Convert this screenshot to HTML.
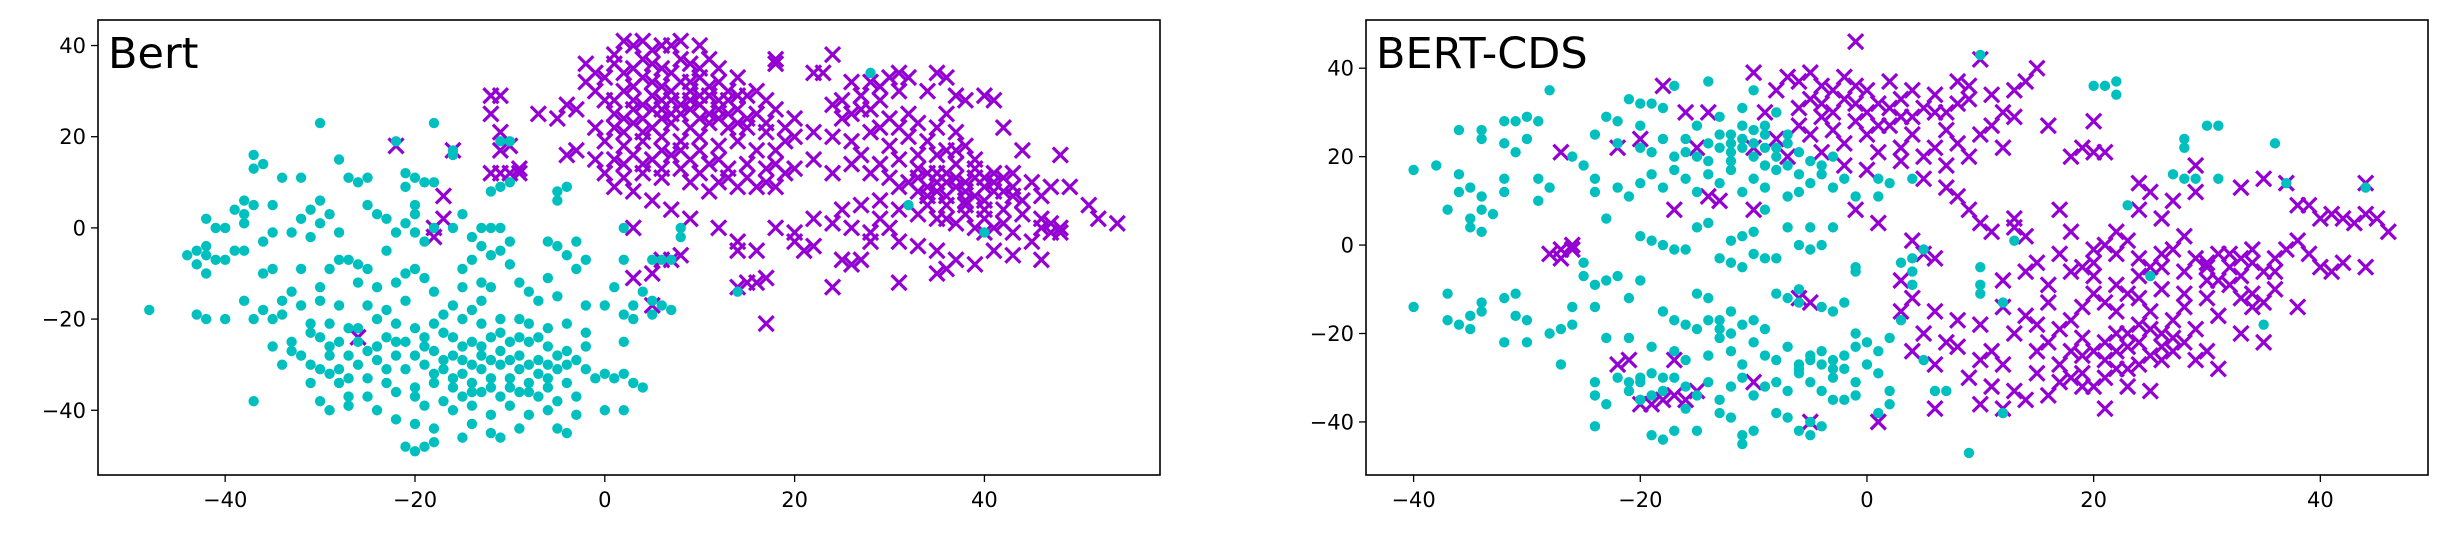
<!DOCTYPE html>
<html><head><meta charset="utf-8">
<style>
html,body{margin:0;padding:0;background:#fff;}
svg{display:block;}
text{font-family:"DejaVu Sans","Liberation Sans",sans-serif;}
</style></head>
<body>
<svg id="fig" width="2443" height="540" viewBox="0 0 2443 540" xmlns="http://www.w3.org/2000/svg">
<rect x="0" y="0" width="2443" height="540" fill="#fff"/>
</svg>
<script>
const xTicks = [-40, -20, 0, 20, 40];
const yTicks = [-40, -20, 0, 20, 40];
const titles = ["Bert", "BERT-CDS"];

const bertCyan = [[-30,23],[-18,23],[-22,19],[-16,17],[-10,19],[-37,16],[-37,13],[-36,14],[-28,15],[-34,11],[-32,11],[-27,11],[-26,10],[-25,11],[-21,12],[-20,11],[-19,10],[-18,10],[-21,9],[-11,9],[-12,8],[-10,10],[-5,8],[-4,9],[-5,6],[-38,6],[-37,5],[-39,4],[-38,3],[-35,5],[-31,4],[-30,6],[-32,2],[-29,3],[-30,1],[-25,5],[-24,3],[-23,2],[-20,5],[-20,3],[-21,1],[-18,0],[-15,3],[-16,0],[-13,0],[-12,0],[-11,0],[-42,2],[-41,0],[-40,0],[-38,1],[-36,-3],[-35,-1],[-33,-1],[-31,-2],[-28,-1],[-22,-1],[-20,-1],[-19,-3],[-14,-2],[-13,-4],[-11,-5],[-6,-3],[-5,-4],[-3,-3],[-4,-6],[-10,-3],
[-43,-5],[-44,-6],[-42,-6],[-41,-7],[-43,-8],[-40,-7],[-39,-5],[-42,-10],[-38,-5],[-42,-4],
[-36,-10],[-35,-9],[-32,-9],[-29,-9],[-28,-7],[-27,-7],[-26,-8],[-25,-9],[-23,-5],[-21,-10],[-20,-9],[-19,-11],[-15,-9],[-14,-7],[-12,-6],[-10,-8],[-9,-12],[-6,-11],[-3,-9],[-2,-7],[2,-7],[5,-7],[6,-7],[7,-7],[-26,-12],[-24,-13],[-22,-12],[-18,-14],[-15,-13],[-13,-12],[-12,-13],[-8,-14],[-5,-15],[1,-13],[4,-14],[-30,-13],[-33,-14],[-34,-16],[-38,-16],[-36,-18],[-32,-17],[-30,-16],[-28,-17],[-25,-17],[-23,-18],[-21,-16],[-16,-17],[-13,-16],[-7,-16],[-2,-17],[0,-17],[3,-17],[5,-16],[6,-17],[7,-18],[2,-19],[3,-20],[5,-19],
[-48,-18],[-43,-19],[-42,-20],[-40,-20],[-37,-20],[-35,-20],[-34,-19],[-31,-21],[-29,-21],[-27,-22],[-24,-20],[-22,-21],[-20,-22],[-18,-21],[-15,-20],[-13,-21],[-11,-20],[-9,-20],[-8,-21],[-6,-22],[-4,-21],[-2,-23],
[-31,-23],[-30,-24],[-28,-25],[-26,-25],[-23,-24],[-21,-25],[-19,-24],[-17,-23],[-16,-24],[-14,-25],[-12,-24],[-10,-25],[-8,-25],[-6,-26],[-4,-27],[-2,-26],[2,-25],
[-35,-26],[-33,-27],[-32,-28],[-29,-28],[-27,-28],[-25,-27],[-24,-29],[-22,-28],[-20,-28],[-18,-27],[-16,-28],[-15,-29],[-13,-28],[-11,-27],[-9,-28],[-7,-29],[-5,-28],[-3,-29],
[-34,-30],[-30,-31],[-28,-31],[-26,-30],[-23,-31],[-21,-31],[-19,-30],[-17,-31],[-15,-32],[-13,-31],[-11,-30],[-9,-31],[-7,-32],[-5,-31],[-2,-31],[0,-32],[1,-33],[2,-32],
[-31,-34],[-28,-34],[-25,-33],[-23,-34],[-20,-35],[-18,-34],[-16,-33],[-14,-34],[-12,-35],[-10,-33],[-8,-34],[-6,-35],[-4,-34],[-1,-33],[3,-34],[4,-35],
[-27,-37],[-25,-37],[-22,-36],[-20,-37],[-17,-38],[-15,-37],[-13,-36],[-11,-37],[-9,-36],[-7,-37],[-5,-38],[-3,-37],
[-37,-38],[-30,-38],[-29,-40],[-27,-39],[-24,-40],[-19,-39],[-16,-40],[-14,-39],[-12,-41],[-10,-39],[-8,-41],[-6,-40],[-3,-41],[0,-40],[2,-40],
[-22,-42],[-20,-43],[-18,-44],[-14,-43],[-12,-45],[-9,-44],[-5,-44],[-4,-45],[-15,-46],[-11,-46],[-21,-48],[-20,-49],[-19,-48],[-18,-47],
[-29,-26],[-26,-22],[-24,-26],[-22,-25],[-19,-26],[-17,-29],[-14,-30],[-12,-29],[-10,-29],[-8,-30],[-6,-30],[-4,-30],[-18,-32],[-16,-35],[-14,-36],[-12,-33],[-10,-35],[-8,-36],[-6,-33],[-15,-26],[-13,-26],[-11,-23],[-9,-24],[-7,-24],[-17,-19],[-14,-18],[-31,-30],[-33,-25],[-29,-32],[-27,-33],
[28,34],[32,5],[40,-1],[2,0],[8,0],[8,-2],[14,-14],[-11,19],[-16,16]];

const bertPurple = [[-4,27],[-3,26],[-5,24],[-7,25],[-12,29],[-11,29],[-12,25],[-11,21],[-22,18],[-11,17],[-16,17],[-12,12],[-11,12],[-10,12],[-9,12],[-9,13],[-17,7],[-17,2],[-18,-2],[-18,0],[-10,18],[-4,16],[-3,17],[-26,-24],
[-2,32],[-1,34],[-2,36],[0,33],[1,38],[2,41],[3,40],[4,41],[5,39],[6,40],[7,40],[8,41],[10,40],[1,36],[3,35],[5,36],[7,34],[9,36],[11,37],[12,35],[14,33],[4,33],[6,31],[8,32],[10,33],[12,32],[2,30],[0,28],[3,28],[5,29],[7,28],[9,30],[11,29],[13,28],[15,29],[16,30],[17,28],[18,26],[1,25],[3,26],[5,26],[7,25],[9,26],[10,27],[12,26],[14,26],[16,25],[-1,22],[1,22],[3,23],[5,22],[7,23],[9,22],[11,23],[13,22],[15,22],[17,21],[19,22],[20,20],[0,19],[2,18],[4,19],[6,20],[8,19],[10,20],[12,18],[14,19],[16,17],[18,17],[-1,15],[1,15],[3,16],[5,15],[7,16],[9,15],[11,14],[13,13],[15,14],[17,13],[19,12],[0,12],[2,11],[4,12],[6,11],[8,13],[10,12],[12,10],[14,9],[16,9],[18,9],[1,9],[3,8],[5,6],[7,4],[9,2],[12,0],[14,-3],[14,-5],[16,-5],[18,0],[20,-1],[21,-5],[3,0],[8,-6],[7,-7],[6,-7],[5,-10],[15,-12],[16,-12],[17,-11],[14,-13],[17,-21],[3,-11],[5,-17],
[2,34],[4,37],[6,35],[8,37],[10,35],[3,31],[5,32],[7,30],[9,32],[11,31],[13,30],[4,27],[6,28],[8,27],[10,29],[12,28],[14,29],[2,24],[4,24],[6,24],[8,25],[10,24],[12,24],[14,23],[2,21],[4,21],[6,17],[8,17],[10,17],[12,15],[2,14],[4,14],[6,13],[9,10],[11,8],[13,11],[15,11],[17,10],[1,28],[-1,30],[6,26],[9,28],[11,25],[13,25],[15,24],[17,23],[19,19],[18,14],[20,13],
[18,37],[18,36],[24,38],[22,34],[23,34],[26,32],[28,32],[30,33],[31,34],[32,33],[29,31],[27,29],[25,28],[24,27],[26,25],[28,26],[30,24],[32,25],[34,30],[35,34],[36,33],[37,29],[38,28],[40,29],[41,28],[36,25],[42,22],[22,21],[24,20],[26,19],[28,21],[30,18],[32,20],[34,19],[36,17],[38,18],[44,17],[48,16],[20,24],[22,15],[24,12],[26,14],[28,12],[30,11],[31,15],[33,13],[35,12],[37,14],[39,11],[41,12],[43,12],[45,10],[47,9],[49,9],[51,5],[52,2],[54,1],
[32,10],[34,9],[35,8],[36,10],[38,8],[40,9],[42,8],[44,6],[46,7],[34,7],[36,5],[38,5],[40,6],[42,4],[44,3],[46,2],[47,1],[48,0],[47,-1],[33,3],[35,2],[37,1],[39,0],[41,0],[43,-1],[45,-3],[30,0],[28,-1],[26,0],[24,1],[22,2],[25,4],[27,5],[29,6],[31,-3],[33,-4],[35,-5],[37,-7],[39,-8],[41,-5],[43,-6],[46,-7],[25,-7],[26,-8],[27,-7],[28,-3],[22,-4],[20,-3],[35,-10],[36,-9],[31,-12],[24,-13],[40,-1],
[33,11],[34,12],[36,12],[37,11],[38,10],[39,13],[40,11],[41,10],[42,11],[43,9],[33,8],[35,10],[37,9],[39,7],[41,8],[43,7],[36,7],[38,6],[40,4],[34,5],[36,2],[38,3],[40,2],[42,1],[48,-1],[46,0],[29,28],[31,30],[27,26],[25,24],[29,22],[31,22],[33,23],[35,22],[37,21],[33,16],[35,16],[37,17],[39,15],[27,16],[29,14],[31,9],[29,2],[31,4]];

const cdsCyan = [[-40,17],[-38,18],[-36,26],[-34,26],[-34,24],[-32,28],[-31,28],[-30,29],[-29,28],[-30,24],[-32,23],[-31,21],[-28,35],[-24,25],[-23,29],[-22,28],[-21,33],[-20,32],[-19,32],[-18,31],[-17,36],[-20,27],[-22,23],[-20,22],[-19,21],[-18,24],[-16,24],[-17,20],[-15,20],[-14,19],[-13,22],[-12,21],[-11,24],[-10,26],[-9,22],[-8,20],[-7,23],[-6,21],[-5,19],[-4,18],[-3,20],[-15,27],[-13,29],[-12,25],[-11,31],[-10,35],[-14,37],[-9,27],[-8,30],[-7,25],
[-12,23],[-11,22],[-10,23],[-10,20],[-9,25],[-8,22],[-11,27],[-12,19],[-13,25],[-14,23],[-16,21],[-7,18],[-6,16],[-9,18],
[-36,16],[-36,12],[-35,13],[-34,11],[-34,8],[-32,15],[-32,12],[-29,10],[-29,15],[-28,13],[-26,20],[-25,18],[-24,15],[-24,12],[-22,13],[-21,11],[-20,14],[-19,16],[-18,13],[-17,17],[-16,15],[-15,12],[-14,16],[-13,14],[-12,17],[-11,12],[-10,15],[-9,13],[-8,17],[-7,11],[-6,12],[-5,14],[-4,16],[-3,13],[-2,15],[-1,11],[1,11],[1,15],[2,14],[4,15],[-37,8],[-35,6],[-35,4],[-34,3],[-33,7],[-23,6],[-20,2],[-19,1],[-18,0],[-17,-1],[-16,-1],[-15,4],[-14,5],[-12,1],[-11,2],[-10,3],[-9,8],[-9,-3],[-8,-3],[-7,4],[-6,0],[-5,-1],[-4,0],[-5,4],[-3,4],[-13,-3],[-12,-4],[-11,-5],[-10,-2],[-1,-6],[-1,-5],[3,-4],[4,-3],[5,-1],[4,-6],[4,-9],[10,-5],[10,-9],[10,-11],
[-40,-14],[-37,-11],[-37,-17],[-36,-18],[-35,-19],[-35,-16],[-34,-15],[-34,-13],[-32,-12],[-31,-11],[-31,-16],[-30,-17],[-28,-20],[-27,-19],[-26,-14],[-26,-18],[-24,-14],[-25,-4],[-25,-7],[-24,-9],[-23,-8],[-22,-7],[-21,-12],[-20,-8],[-18,-15],[-17,-17],[-16,-18],[-15,-11],[-14,-12],[-13,-17],[-12,-15],[-11,-18],[-10,-17],[-9,-19],[-8,-11],[-7,-12],[-6,-13],[-6,-10],[-4,-14],[-3,-15],[-2,-13],[-1,-20],[-1,-23],[0,-22],[1,-24],[2,-21],[3,-17],[-32,-22],[-30,-22],[-27,-27],[-23,-21],[-21,-21],[-19,-23],[-17,-24],[-16,-26],[-14,-25],[-13,-21],[-12,-24],[-11,-27],[-10,-22],[-9,-25],[-8,-26],[-7,-23],[-6,-28],[-5,-25],[-4,-27],[-3,-26],[-2,-28],[0,-27],[-24,-31],[-24,-34],[-22,-30],[-21,-33],[-20,-31],[-19,-29],[-18,-33],[-17,-30],[-16,-32],[-15,-34],[-14,-31],[-13,-35],[-12,-32],[-11,-30],[-10,-34],[-9,-32],[-8,-31],[-7,-33],[-6,-29],[-5,-31],[-4,-33],[-3,-30],[-1,-31],[1,-29],[2,-33],[-23,-36],[-20,-35],[-16,-37],[-13,-38],[-12,-39],[-8,-38],[-7,-39],[-5,-40],[-4,-41],[-3,-35],[-2,-35],[-1,-34],[1,-38],[2,-36],[-24,-41],[-19,-43],[-18,-44],[-17,-42],[-15,-42],[-11,-43],[-10,-42],[-11,-45],[-6,-42],[-5,-43],[5,-26],[6,-33],[7,-33],[12,-38],[9,-47],[10,43],[20,36],[21,36],[22,37],[22,34],[30,27],[31,27],[28,24],[28,22],[27,16],[28,15],[29,15],[31,15],[36,23],[37,14],[44,13],[23,9],[25,-7],[13,1],[12,-13],[35,-18],
[-5,-26],[-6,-27],[-4,-24],[-3,-28],[-2,-25],[-13,-19],[-12,-20],[-14,-17],[-15,-19],[-21,-31],[-20,-30],[-19,-34],[-18,-30]];

const cdsPurple = [[-28,-2],[-27,-3],[-27,-1],[-26,-1],[-26,0],[-22,22],[-20,24],[-27,21],[-18,36],[-17,-26],[-17,-34],[-18,-35],[-19,-36],[-20,-36],[-21,-26],[-22,-27],[-16,-35],[-15,-33],[-10,-31],[-5,-40],[-6,-12],[-5,-13],[1,-40],[-17,8],[-14,11],[-13,10],[-10,8],[-10,22],[-15,22],[-14,30],[-16,30],
[-1,46],[-10,39],[-9,30],[-8,35],[-7,38],[-6,37],[-5,39],[-4,32],[-3,35],[-2,38],[-1,36],[0,30],[1,32],[2,37],[3,33],[4,35],[5,31],[6,34],[7,26],[8,37],[9,36],[10,42],[11,34],[12,30],[13,35],[14,37],[15,40],[-6,27],[-5,25],[-4,29],[-3,26],[-2,23],[-1,28],[0,25],[1,21],[2,27],[3,22],[4,25],[5,20],[6,22],[7,18],[8,23],[9,20],[10,25],[11,27],[12,22],[13,29],[-8,24],[-7,20],[-4,21],[-2,18],[0,17],[3,19],[5,15],[7,13],[8,11],[9,8],[10,5],[11,3],[13,6],[-1,8],[1,5],[4,1],[5,-2],[6,-3],[3,-8],[4,-12],[6,-15],[8,-17],[3,-15],[5,-20],[7,-22],[4,-24],[6,-27],[10,-26],[11,-24],[12,-27],[13,-20],[14,-16],[15,-18],[16,-13],[12,-8],[14,-6],[15,-4],[13,4],[14,2],[16,-9],[17,-2],[18,3],[19,-5],[20,-1],[21,0],[22,3],[23,1],[24,-3],[25,-5],[26,-2],[27,-1],[28,2],[29,-3],[30,-4],[31,-2],[32,-5],[33,-3],[34,-4],[35,-6],[36,-3],[37,-1],[38,1],[30,-8],[32,-9],[34,-11],[35,-13],[36,-10],[38,-14],[28,-11],[26,-10],[24,-12],[22,-9],[20,-7],[18,-6],[17,8],[18,20],[19,22],[20,21],[21,21],[20,28],[16,27],[25,12],[24,14],[27,10],[29,12],[29,18],[33,13],[35,15],[37,14],[38,9],[39,9],[40,6],[41,7],[42,6],[43,5],[44,14],[44,7],[45,6],[46,3],[40,-5],[41,-6],[42,-4],[44,-5],[39,-2],[24,8],[26,6],[20,-11],[22,-15],[24,-18],[26,-20],[28,-22],[30,-24],[31,-28],[27,-24],[25,-25],[23,-28],[21,-22],[19,-25],[17,-27],[15,-29],[18,-30],[20,-32],[16,-34],[14,-35],[12,-37],[11,-32],[10,-36],[21,-30],[19,-29],[23,-20],[25,-15],[27,-17],[29,-19],[31,-16],[33,-20],[35,-22],[23,-32],[25,-33],[13,-33],[8,-23],[9,-30],[6,-37],[21,-37],[22,-24],[24,-22],[26,-23],[28,-14],[30,-12],[18,-17],[16,-22],[12,-14],[10,-18],
[-4,36],[-2,33],[0,35],[2,31],[4,29],[6,30],[8,32],[-3,30],[-1,32],[1,27],[3,29],[-5,33],[-6,31],[7,30],[9,33],[22,-20],[23,-23],[20,-24],[21,-26],[24,-27],[26,-26],[18,-24],[19,-21],[17,-19],[25,-19],[27,-21],[29,-26],[31,-8],[33,-7],[32,-2],[34,-1],[30,-5],[28,-6],[26,-5],[36,-6],[33,-12],[34,-14],[20,-4],[22,-2],[24,-7],[21,-13],[19,-14],[23,-11],[15,-24],[17,-31],[19,-32],[22,-28]];

const NS = "http://www.w3.org/2000/svg";
const svg = document.getElementById("fig");
function mk(tag, attrs, parent) {
  const e = document.createElementNS(NS, tag);
  for (const k in attrs) e.setAttribute(k, attrs[k]);
  parent.appendChild(e);
  return e;
}
const panels = [
  {name:"bert", title:titles[0], cyan:bertCyan, purple:bertPurple,
   box:[98,20,1160,475], xd:[-53.4,58.5], yd:[-54.2,45.6]},
  {name:"bert-cds", title:titles[1], cyan:cdsCyan, purple:cdsPurple,
   box:[1366,20,2428,475], xd:[-44.2,49.5], yd:[-52,50.9]}
];
panels.forEach(p => {
  const [x0,y0,x1,y1] = p.box;
  const sx = v => x0 + (v - p.xd[0]) / (p.xd[1]-p.xd[0]) * (x1-x0);
  const sy = v => y1 - (v - p.yd[0]) / (p.yd[1]-p.yd[0]) * (y1-y0);
  const g = mk("g", {}, svg);
  
  
  const clipId = "clip-" + p.name;
  const cp = mk("clipPath", {id:clipId}, g);
  mk("rect", {x:x0,y:y0,width:x1-x0,height:y1-y0}, cp);
  const marks = mk("g", {"clip-path":"url(#"+clipId+")"}, g);
  
  
  const pg = mk("g", {stroke:"#9400d3","stroke-width":"3.2",fill:"none"}, marks);
  
  
  const h = 7.5;
  p.purple.forEach(d => {
    const cx = sx(d[0]), cy = sy(d[1]);
    const m = mk("path", {d:`M${cx-h},${cy-h}L${cx+h},${cy+h}M${cx-h},${cy+h}L${cx+h},${cy-h}`}, pg);
    
    
  });
  const cg = mk("g", {fill:"#00bfbf"}, marks);
  
  
  p.cyan.forEach(d => {
    const c = mk("circle", {cx:sx(d[0]), cy:sy(d[1]), r:5.2}, cg);
    
    
  });
  const fr = mk("rect", {x:x0,y:y0,width:x1-x0,height:y1-y0,fill:"none",stroke:"#000","stroke-width":"1.6"}, g);
  
  
  xTicks.forEach(t => {
    const x = sx(t);
    const tl = mk("line", {x1:x,y1:y1,x2:x,y2:y1+7,stroke:"#000","stroke-width":"1.3"}, g);
    
    
    const tx = mk("text", {x:x,y:y1+32,"font-size":"21","text-anchor":"middle",fill:"#000"}, g);
    tx.textContent = (t<0?"\u2212":"") + Math.abs(t);
    
    
  });
  yTicks.forEach(t => {
    const y = sy(t);
    const tl = mk("line", {x1:x0-7,y1:y,x2:x0,y2:y,stroke:"#000","stroke-width":"1.3"}, g);
    
    
    const tx = mk("text", {x:x0-12,y:y+7.5,"font-size":"21","text-anchor":"end",fill:"#000"}, g);
    tx.textContent = (t<0?"\u2212":"") + Math.abs(t);
    
    
  });
  const ti = mk("text", {x:x0+10,y:y0,"font-size":"43",fill:"#000","dominant-baseline":"hanging"}, g);
  ti.setAttribute("y", y0 + 48);
  ti.removeAttribute("dominant-baseline");
  ti.textContent = p.title;
  
  
});
</script>
</body></html>
